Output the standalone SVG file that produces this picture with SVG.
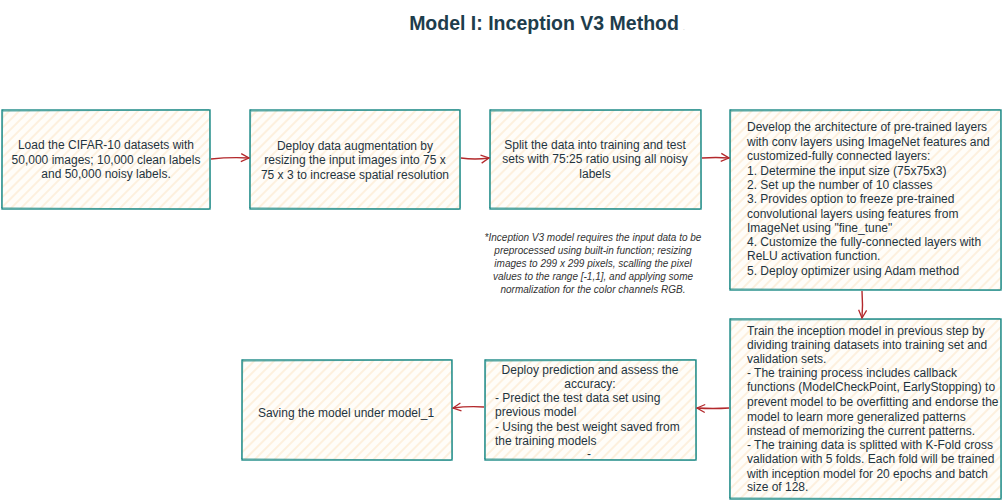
<svg xmlns="http://www.w3.org/2000/svg" width="1007" height="501" viewBox="0 0 1007 501">
<defs>
<pattern id="hatch" patternUnits="userSpaceOnUse" width="7" height="7" patternTransform="rotate(45)">
<rect width="7" height="7" fill="#fffdf9"/>
<line x1="1" y1="0" x2="1" y2="7" stroke="#fde6c8" stroke-width="1.1"/>
</pattern>
<marker id="arr" markerWidth="12" markerHeight="10" refX="9" refY="5" orient="auto" markerUnits="userSpaceOnUse">
<path d="M1,1 L9,5 L1,9" fill="none" stroke="#b3292c" stroke-width="1.3"/>
</marker>
<style>
.box{fill:url(#hatch);stroke:#1d8a87;stroke-width:1.4}
.sk{fill:none;stroke:#1d8a87;stroke-width:0.7;opacity:0.6}
.t{font-family:"Liberation Sans",Arial,sans-serif;font-size:12px;fill:#1f3440}
.c{text-anchor:middle}
.note{font-family:"Liberation Sans",Arial,sans-serif;font-size:10px;font-style:italic;fill:#333;text-anchor:middle}
.con{fill:none;stroke:#b3292c;stroke-width:1.4;marker-end:url(#arr)}
</style>
</defs>
<rect width="1007" height="501" fill="#ffffff"/>
<text x="544" y="30" text-anchor="middle" font-family="'Liberation Sans',Arial,sans-serif" font-size="19.5" font-weight="bold" fill="#1e3d4c">Model I: Inception V3 Method</text>
<text x="683" y="30" font-family="'Liberation Sans',Arial,sans-serif" font-size="6" fill="#9aa">.</text>

<g id="node1">
<rect class="box" x="2" y="110" width="208" height="99"/>
<path class="sk" d="M3,111.5 L209,109.5 M209.5,110 L210.5,208 M1,207.5 L209,209.5 M2.8,109 L1.5,208"/>
<text class="t c" x="106" y="149">Load the CIFAR-10 datasets with</text>
<text class="t c" x="106" y="164">50,000 images; 10,000 clean labels</text>
<text class="t c" x="106" y="178">and 50,000 noisy labels.</text>
</g>

<g id="node2">
<rect class="box" x="250" y="110" width="210" height="99"/>
<path class="sk" d="M251,111.5 L459,109.5 M459.5,110 L460.5,208 M249,207.5 L459,209.5 M250.8,109 L249.5,208"/>
<text class="t c" x="355" y="150">Deploy data augmentation by</text>
<text class="t c" x="355" y="164">resizing the input images into 75 x</text>
<text class="t c" x="355" y="179">75 x 3 to increase spatial resolution</text>
</g>

<g id="node3">
<rect class="box" x="490" y="110" width="211" height="99"/>
<path class="sk" d="M491,111.5 L700,109.5 M700.5,110 L701.5,208 M489,207.5 L700,209.5 M490.8,109 L489.5,208"/>
<text class="t c" x="595" y="149">Split the data into training and test</text>
<text class="t c" x="595" y="163">sets with 75:25 ratio using all noisy</text>
<text class="t c" x="595" y="178">labels</text>
</g>

<g id="node4">
<rect class="box" x="730" y="110" width="271" height="180"/>
<path class="sk" d="M731,111.5 L1000,109.5 M1000.5,110 L1001.5,289 M729,288.5 L1000,290.5 M730.8,109 L729.5,289"/>
<text class="t" x="747" y="131">Develop the architecture of pre-trained layers</text>
<text class="t" x="747" y="146">with conv layers using ImageNet features and</text>
<text class="t" x="747" y="160">customized-fully connected layers:</text>
<text class="t" x="747" y="175">1. Determine the input size (75x75x3)</text>
<text class="t" x="747" y="189">2. Set up the number of 10 classes</text>
<text class="t" x="747" y="203">3. Provides option to freeze pre-trained</text>
<text class="t" x="747" y="218">convolutional layers using features from</text>
<text class="t" x="747" y="232">ImageNet using "fine_tune"</text>
<text class="t" x="747" y="246">4. Customize the fully-connected layers with</text>
<text class="t" x="747" y="260">ReLU activation function.</text>
<text class="t" x="747" y="275">5. Deploy optimizer using Adam method</text>
</g>

<g id="node5">
<rect class="box" x="730" y="319" width="271" height="180"/>
<path class="sk" d="M731,320.5 L1000,318.5 M1000.5,319 L1001.5,498 M729,497.5 L1000,499.5 M730.8,318 L729.5,498"/>
<text class="t" x="747" y="335">Train the inception model in previous step by</text>
<text class="t" x="747" y="349">dividing training datasets into training set and</text>
<text class="t" x="747" y="363">validation sets.</text>
<text class="t" x="747" y="377">- The training process includes callback</text>
<text class="t" x="747" y="391">functions (ModelCheckPoint, EarlyStopping) to</text>
<text class="t" x="747" y="406">prevent model to be overfitting and endorse the</text>
<text class="t" x="747" y="421">model to learn more generalized patterns</text>
<text class="t" x="747" y="435">instead of memorizing the current patterns.</text>
<text class="t" x="747" y="449">- The training data is splitted with K-Fold cross</text>
<text class="t" x="747" y="463">validation with 5 folds. Each fold will be trained</text>
<text class="t" x="747" y="478">with inception model for 20 epochs and batch</text>
<text class="t" x="747" y="491">size of 128.</text>
</g>

<g id="node6">
<rect class="box" x="485" y="360" width="211" height="100"/>
<path class="sk" d="M486,361.5 L695,359.5 M695.5,360 L696.5,459 M484,458.5 L695,460.5 M485.8,359 L484.5,459"/>
<text class="t c" x="590" y="374">Deploy prediction and assess the</text>
<text class="t c" x="590" y="388">accuracy:</text>
<text class="t" x="495" y="402">- Predict the test data set using</text>
<text class="t" x="495" y="416">previous model</text>
<text class="t" x="495" y="431">- Using the best weight saved from</text>
<text class="t" x="495" y="445">the training models</text>
<text class="t c" x="589" y="458">-</text>
</g>

<g id="node7">
<rect class="box" x="242" y="360" width="210" height="100"/>
<path class="sk" d="M243,361.5 L451,359.5 M451.5,360 L452.5,459 M241,458.5 L451,460.5 M242.8,359 L241.5,459"/>
<text class="t c" x="346" y="417">Saving the model under model_1</text>
</g>

<g id="note">
<text class="note" x="593" y="241">*Inception V3 model requires the input data to be</text>
<text class="note" x="593" y="254">preprocessed using built-in function;  resizing</text>
<text class="note" x="593" y="267">images to 299 x 299 pixels, scalling the pixel</text>
<text class="note" x="593" y="280">values to the range [-1,1], and applying some</text>
<text class="note" x="593" y="293">normalization for the color channels RGB.</text>
</g>

<g id="connectors">
<path class="con" d="M211,159 Q230,157 249,158"/>
<path class="con" d="M461,158 Q475,160 489,158"/>
<path class="con" d="M702,158 Q716,157 729,158"/>
<path class="con" d="M862,291 Q863,305 862,318"/>
<path class="con" d="M729,408 Q713,409 697,408"/>
<path class="con" d="M484,407 Q468,406 453,408"/>
</g>
</svg>
